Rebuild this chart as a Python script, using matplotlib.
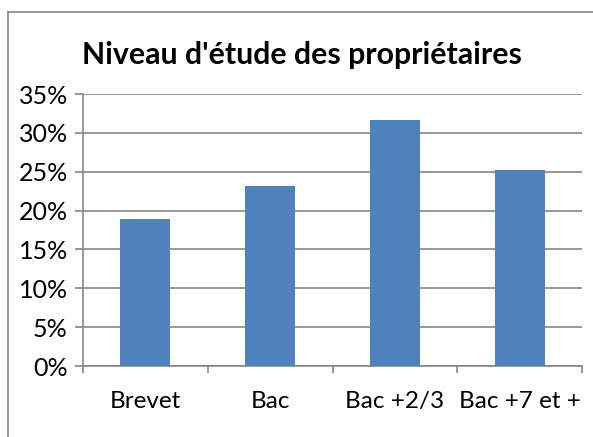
import numpy as np
import matplotlib.pyplot as plt
from matplotlib.lines import Line2D
from matplotlib.ticker import PercentFormatter

# Donnees
niveaux = ['Brevet', 'Bac', 'Bac +2/3', 'Bac +7 et +']
parts = [18.95, 23.2, 31.6, 25.25]
yticks = np.arange(0, 40, 5)

plt.rcParams['font.family'] = ['Lato', 'DejaVu Sans']

W, H = 593, 437
fig = plt.figure(figsize=(W / 100, H / 100), dpi=100)
ax = fig.add_axes([83 / W, 1 - 366 / H, (582 - 83) / W, (366 - 94) / H])

x = np.arange(len(niveaux))
ax.bar(x, parts, width=0.4, color='#4F81BD', zorder=3)

ax.set_xlim(-0.5, len(niveaux) - 0.5)
ax.set_ylim(0, 35)
ax.set_yticks(yticks)
ax.yaxis.set_major_formatter(PercentFormatter(decimals=0))
ax.set_xticks(x)
ax.set_xticklabels(niveaux)
ax.set_xticks(np.arange(-0.5, len(niveaux), 1), minor=True)

ax.grid(axis='y', color='#868686', linewidth=1.2, zorder=0)
for s in ['top', 'right']:
    ax.spines[s].set_visible(False)
for s in ['left', 'bottom']:
    ax.spines[s].set_color('#868686')
    ax.spines[s].set_linewidth(1.2)

ax.tick_params(axis='y', length=6, width=1.2, color='#868686', labelsize=18, pad=5)
ax.tick_params(axis='x', which='major', length=0, labelsize=17.5, pad=18)
ax.tick_params(axis='x', which='minor', length=5, width=1.2, color='#868686')

fig.text(302 / W, 1 - 55 / H, "Niveau d'étude des propriétaires",
         ha='center', va='center', fontsize=21.8, fontweight='bold')

# cadre du graphique
fig.add_artist(Line2D([8 / W, 1], [1 - 12 / H, 1 - 12 / H], color='#868686', lw=1.2))
fig.add_artist(Line2D([8 / W, 8 / W], [1 - 12 / H, 0], color='#868686', lw=1.2))

fig.savefig('out.png', dpi=100)
